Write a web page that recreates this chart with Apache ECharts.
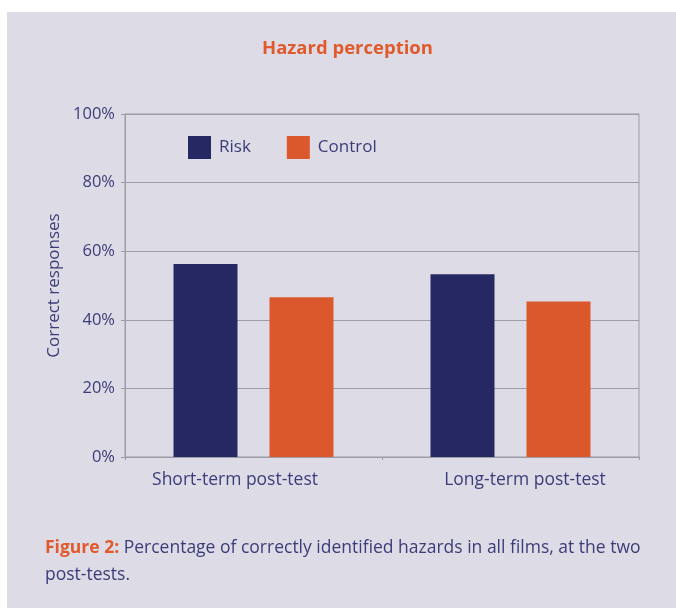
<!DOCTYPE html>
<html>
<head>
<meta charset="utf-8">
<script src="https://cdn.jsdelivr.net/npm/echarts@6/dist/echarts.min.js"></script>
<style>
html,body{margin:0;padding:0;background:#fff;}
#wrap{position:relative;width:676px;height:608px;background:#fff;overflow:hidden;}
#panel{position:absolute;left:7px;top:12px;width:669px;height:596px;background:#dddbe6;}
#chart{position:absolute;left:0;top:0;width:676px;height:608px;}
</style>
</head>
<body>
<div id="wrap"><div id="panel"></div><div id="chart"></div></div>
<script>
var categories = ['Short-term post-test', 'Long-term post-test'];
var riskValues = [56.3, 53.3];
var controlValues = [46.6, 45.3];
var seriesNames = ['Risk', 'Control'];
var yTicks = [0, 20, 40, 60, 80, 100];

var FONT = 'Open Sans';
var NAVY_TXT = '#3b3d78';
var chart = echarts.init(document.getElementById('chart'), null, {renderer: 'canvas'});
chart.setOption({
  backgroundColor: 'transparent',
  animation: false,
  title: [{
    text: 'Hazard perception',
    left: 257,
    top: 34,
    textStyle: {color: '#e05a2b', fontFamily: FONT, fontWeight: 'bold', fontSize: 18.5}
  }, {
    text: '{b|Figure 2:} {n|Percentage of correctly identified hazards in all films, at the two}\n{n|post-tests.}',
    left: 40,
    top: 530,
    textStyle: {
      fontFamily: FONT, fontSize: 17.5, lineHeight: 27, fontWeight: 'normal',
      rich: {
        b: {color: '#e05a2b', fontWeight: 'bold', fontFamily: FONT, fontSize: 17.5, lineHeight: 27},
        n: {color: NAVY_TXT, fontWeight: 'normal', fontFamily: FONT, fontSize: 17.5, lineHeight: 27}
      }
    }
  }],
  legend: {
    data: seriesNames,
    left: 183,
    top: 131,
    itemWidth: 23,
    itemHeight: 23,
    itemGap: 36,
    icon: 'rect',
    textStyle: {color: NAVY_TXT, fontFamily: FONT, fontSize: 17, padding: [0, 0, 0, 3]}
  },
  grid: {
    left: 125, right: 37, top: 114, bottom: 151,
    show: true, borderColor: '#9c9ca6', borderWidth: 1
  },
  xAxis: {
    type: 'category',
    data: categories,
    axisLine: {lineStyle: {color: '#9c9ca6', width: 1}},
    axisTick: {show: true, length: 3, lineStyle: {color: '#9c9ca6'}},
    axisLabel: {
      margin: 14,
      color: NAVY_TXT,
      fontFamily: FONT,
      fontSize: 17.5,
      formatter: function (v, i) { return i === 0 ? '{l|' + v + '}' : '{r|' + v + '}'; },
      rich: {
        l: {color: NAVY_TXT, fontFamily: FONT, fontSize: 17.5, padding: [0, 37, 0, 0]},
        r: {color: NAVY_TXT, fontFamily: FONT, fontSize: 17.5, padding: [0, 0, 0, 29]}
      }
    }
  },
  yAxis: {
    type: 'value',
    min: 0, max: 100, interval: 20,
    name: 'Correct responses',
    nameLocation: 'middle',
    nameGap: 59,
    nameRotate: 90,
    nameTextStyle: {color: NAVY_TXT, fontFamily: FONT, fontSize: 17},
    axisLine: {show: true, lineStyle: {color: '#9c9ca6', width: 1}},
    axisTick: {show: true, length: 4, lineStyle: {color: '#9c9ca6'}},
    splitLine: {show: true, lineStyle: {color: '#9c9ca6', width: 1}},
    axisLabel: {
      margin: 10,
      color: NAVY_TXT,
      fontFamily: FONT,
      fontSize: 16.5,
      formatter: function (v) { return yTicks.indexOf(v) >= 0 ? v + '%' : ''; }
    }
  },
  series: [{
    name: seriesNames[0],
    type: 'bar',
    data: riskValues,
    barWidth: 64,
    barGap: '50%',
    itemStyle: {color: '#262864'}
  }, {
    name: seriesNames[1],
    type: 'bar',
    data: controlValues,
    barWidth: 64,
    barGap: '50%',
    itemStyle: {color: '#db582c'}
  }]
});
</script>
</body>
</html>
